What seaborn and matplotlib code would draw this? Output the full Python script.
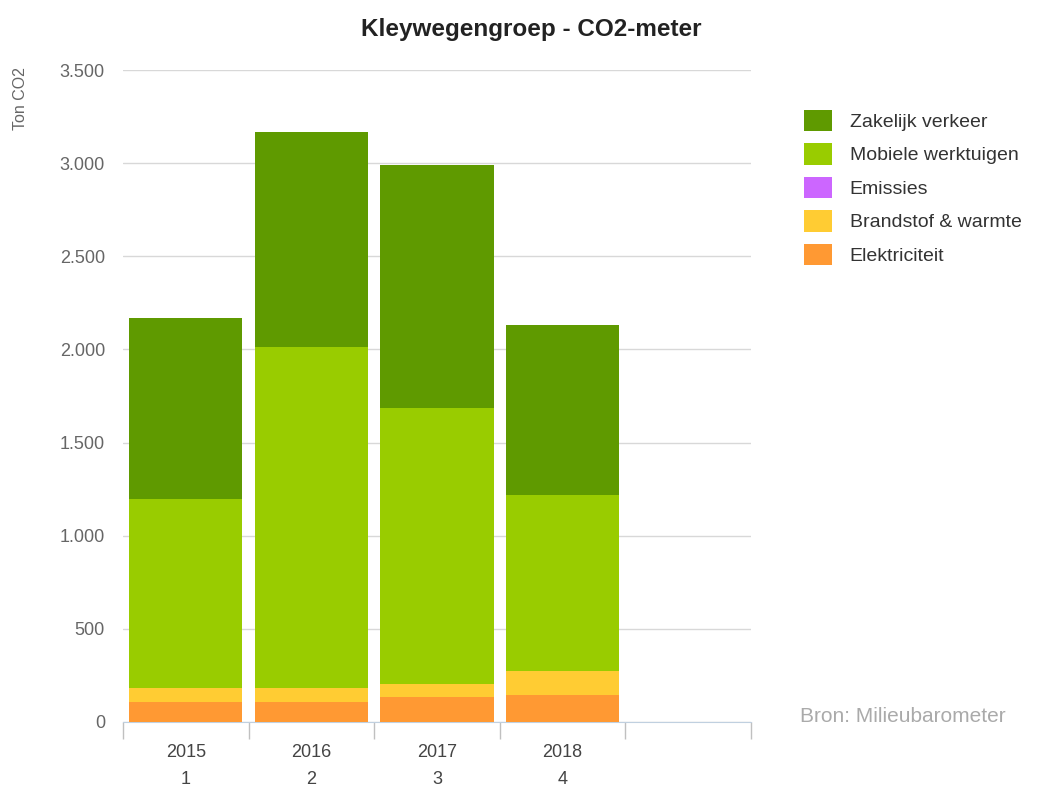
import numpy as np
import pandas as pd
import seaborn as sns
import matplotlib.pyplot as plt
from matplotlib.patches import Patch
from matplotlib.ticker import FuncFormatter

# data (ton CO2)
years = ['2015\n1', '2016\n2', '2017\n3', '2018\n4', '']
elektriciteit = [106, 106, 136, 147]
brandstof = [78, 78, 68, 125]
emissies = [0, 0, 0, 0]
mobiele = [1013, 1829, 1481, 946]
zakelijk = [972, 1154, 1305, 913]

series = ['Zakelijk verkeer', 'Mobiele werktuigen', 'Emissies', 'Brandstof & warmte', 'Elektriciteit']
colors = ['#5f9a00', '#99cc00', '#cc66ff', '#ffcc33', '#ff9933']

df = pd.DataFrame({'Jaar': years[:4],
                   'Elektriciteit': elektriciteit,
                   'Brandstof & warmte': brandstof,
                   'Emissies': emissies,
                   'Mobiele werktuigen': mobiele,
                   'Zakelijk verkeer': zakelijk})

sns.set_style("white")
plt.rcParams['font.family'] = ['Liberation Sans', 'DejaVu Sans']

fig = plt.figure(figsize=(10.46, 7.87), dpi=100)
ax = fig.add_axes([0.1176, 0.0826, 0.6004, 0.8284])

# stacked bars: draw cumulative totals, largest first
stack_order = series[::-1]
cum = df[stack_order].cumsum(axis=1)
for name, col in zip(series, colors):
    plot_df = pd.DataFrame({'Jaar': df['Jaar'], 'v': cum[name]})
    sns.barplot(data=plot_df, x='Jaar', y='v', order=years, color=col,
                width=0.9, saturation=1, linewidth=0, ax=ax, zorder=3)

ax.set_xlim(-0.5, 4.5)
ax.set_ylim(0, 3500)
ax.set_yticks(np.arange(0, 3501, 500))
ax.yaxis.set_major_formatter(FuncFormatter(lambda v, p: f'{int(v):,}'.replace(',', '.')))
ax.grid(axis='y', color='#d8d8d8', linewidth=1, zorder=0)
ax.set_axisbelow(True)
for s in ['top', 'right', 'left']:
    ax.spines[s].set_visible(False)
ax.spines['bottom'].set_color('#c0d0e0')
ax.tick_params(axis='y', length=0, pad=13, labelsize=13, labelcolor='#666666')
ax.tick_params(axis='x', which='major', length=0, pad=16, labelsize=13, labelcolor='#444444')
for lab in ax.get_xticklabels():
    lab.set_linespacing(1.75)
ax.set_xticks(np.arange(-0.5, 5, 1), minor=True)
ax.tick_params(axis='x', which='minor', bottom=True, length=12, width=1, color='#c0c0c0')
ax.set_xlabel('')
ax.set_ylabel('')

fig.text(0.02, 0.915, 'Ton CO2', rotation=90, ha='center', va='top', fontsize=11.5, color='#666666')
fig.text(0.508, 0.962, 'Kleywegengroep - CO2-meter', ha='center', va='center',
         fontsize=17.5, fontweight='bold', color='#222222')

handles = [Patch(facecolor=c, edgecolor='none', label=n) for n, c in zip(series, colors)]
fig.legend(handles=handles, loc='upper left', bbox_to_anchor=(0.752, 0.883), frameon=False,
           fontsize=14, handlelength=1.45, handleheight=1.35, handletextpad=0.9,
           labelspacing=0.6, labelcolor='#333333')

fig.text(0.765, 0.09, 'Bron: Milieubarometer', ha='left', va='center', fontsize=15, color='#aaaaaa')

fig.savefig('out.png', dpi=100)
